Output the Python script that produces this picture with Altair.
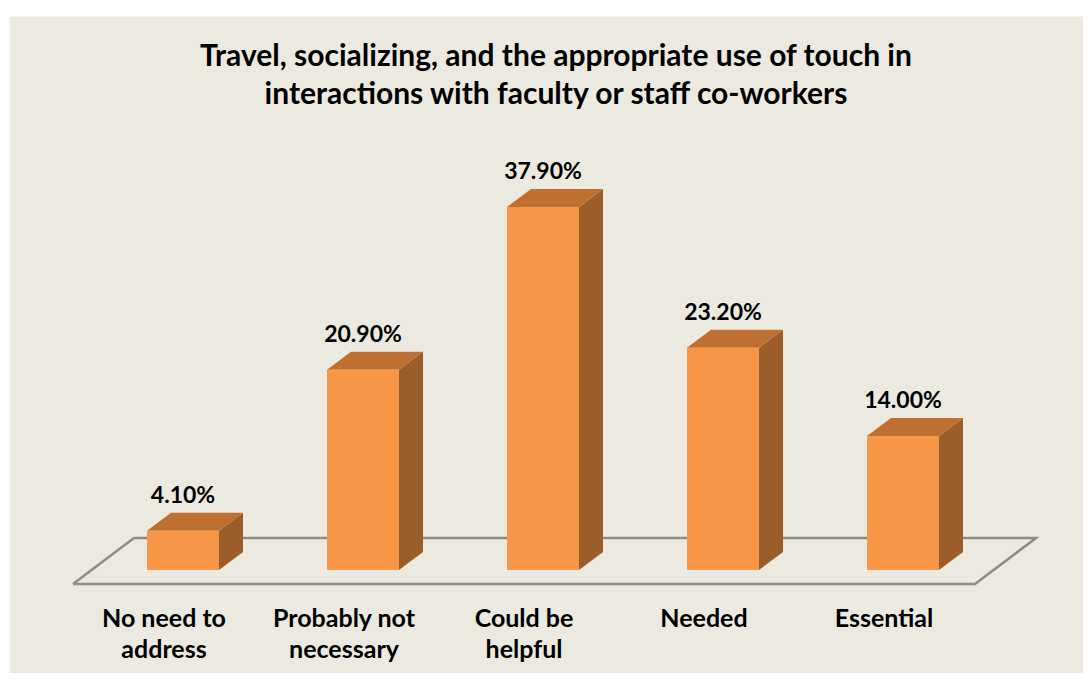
import altair as alt
import pandas as pd

# ---- data ----
categories = ["No need to\naddress", "Probably not\nnecessary", "Could be\nhelpful", "Needed", "Essential"]
values = [4.1, 20.9, 37.9, 23.2, 14.0]
title_lines = ["Travel, socializing, and the appropriate use of touch in",
               "interactions with faculty or staff co-workers"]

# ---- styling / geometry constants ----
BG = "#ECEAE0"
FRONT = "#F79646"
TOP = "#BE7032"
SIDE = "#9B5E2B"
FLOOR = "#8C8C8C"
FONT = "Lato"

PX_X = 180.0        # px per category step
PX_Y = 9.58         # px per percentage point
HALF_W = 36 / PX_X  # half bar width (x units)
DX = 24 / PX_X      # depth offset in x units
DY = 18 / PX_Y      # depth offset in y units

n = len(categories)

# front faces
front = pd.DataFrame({
    "i": list(range(n)),
    "cat": categories,
    "value": values,
    "x0": [i - HALF_W for i in range(n)],
    "x1": [i + HALF_W for i in range(n)],
    "y0": [0.0] * n,
})
front["label"] = [f"{v:.2f}%" for v in values]
front["ytop"] = front["value"] + DY
front["xcat"] = front["i"] - 19 / PX_X
front["ycat"] = -57 / PX_Y

# top faces (parallelograms as areas)
top_rows = []
for i, v in enumerate(values):
    x0, x1 = i - HALF_W, i + HALF_W
    top_rows += [
        {"bar": i, "x": x0, "lo": v, "hi": v},
        {"bar": i, "x": x0 + DX, "lo": v, "hi": v + DY},
        {"bar": i, "x": x1, "lo": v, "hi": v + DY},
        {"bar": i, "x": x1 + DX, "lo": v + DY, "hi": v + DY},
    ]
top_df = pd.DataFrame(top_rows)

# side faces
side_rows = []
for i, v in enumerate(values):
    x1 = i + HALF_W
    side_rows += [
        {"bar": i, "x": x1, "lo": 0.0, "hi": v},
        {"bar": i, "x": x1 + DX, "lo": DY, "hi": v + DY},
    ]
side_df = pd.DataFrame(side_rows)

# floor outline
f_front = -14 / PX_Y
f_back = f_front + 46 / PX_Y
f_left = -0.611
f_right = (n - 1) + 0.4
skew = 61 / PX_X
floor_df = pd.DataFrame({
    "x": [f_left, f_left + skew, f_right + skew, f_right, f_left],
    "y": [f_front, f_back, f_back, f_front, f_front],
    "o": [0, 1, 2, 3, 4],
})

# plot area spans page x 9..1083, y 16..673 (bar baseline at y=570, first bar at x=183)
xdom = [(9 - 183) / PX_X, (1083 - 183) / PX_X]
ydom = [(570 - 673) / PX_Y, (570 - 16) / PX_Y]
xs = alt.Scale(domain=xdom, nice=False, zero=False)
ys = alt.Scale(domain=ydom, nice=False, zero=False)

floor = alt.Chart(floor_df).mark_line(color=FLOOR, strokeWidth=2.5, strokeJoin="miter").encode(
    x=alt.X("x:Q", scale=xs, axis=None),
    y=alt.Y("y:Q", scale=ys, axis=None),
    order="o:Q",
)

side = alt.Chart(side_df).mark_area(color=SIDE, opacity=1).encode(
    x=alt.X("x:Q", scale=xs, axis=None),
    y=alt.Y("hi:Q", scale=ys, axis=None),
    y2="lo:Q",
    detail="bar:N",
)

top = alt.Chart(top_df).mark_area(color=TOP, opacity=1).encode(
    x=alt.X("x:Q", scale=xs, axis=None),
    y=alt.Y("hi:Q", scale=ys, axis=None),
    y2="lo:Q",
    detail="bar:N",
)

bars = alt.Chart(front).mark_rect(color=FRONT).encode(
    x=alt.X("x0:Q", scale=xs, axis=None),
    x2="x1:Q",
    y=alt.Y("y0:Q", scale=ys, axis=None),
    y2="value:Q",
)

vlabels = alt.Chart(front).mark_text(
    font=FONT, fontWeight="bold", fontSize=23, color="black",
    baseline="alphabetic", align="center", dy=-10,
).encode(
    x=alt.X("i:Q", scale=xs, axis=None),
    y=alt.Y("ytop:Q", scale=ys, axis=None),
    text="label:N",
)

clabels = alt.Chart(front).mark_text(
    font=FONT, fontWeight="bold", fontSize=25, color="black",
    baseline="alphabetic", align="center", lineBreak="\n", lineHeight=31,
).encode(
    x=alt.X("xcat:Q", scale=xs, axis=None),
    y=alt.Y("ycat:Q", scale=ys, axis=None),
    text="cat:N",
)

chart = alt.layer(floor, side, top, bars, vlabels, clabels).properties(
    width=1074,
    height=657,
    background="white",
    padding={"left": 1, "right": 0, "top": 8, "bottom": 0},
    autosize=alt.AutoSizeParams(type="none"),
    title=alt.TitleParams(
        text=title_lines, font=FONT, fontSize=30, fontWeight="bold",
        color="black", anchor="middle", dx=10,
        offset=-94, lineHeight=38,
    ),
).configure_view(stroke="transparent", fill=BG)

chart.save("out.html", embed_options={"renderer": "svg", "actions": False})
